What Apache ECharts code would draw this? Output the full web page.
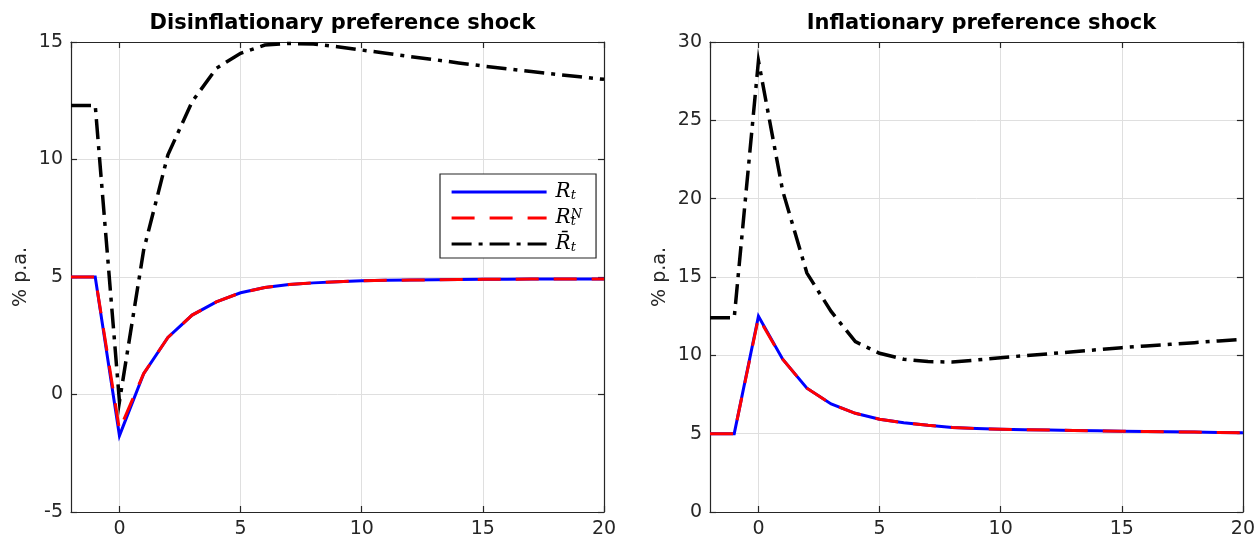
<!DOCTYPE html>
<html>
<head>
<meta charset="utf-8">
<script src="https://cdn.jsdelivr.net/npm/echarts@6/dist/echarts.min.js"></script>
<style>
html,body{margin:0;padding:0;background:#fff;}
#chart{width:1258px;height:541px;}
</style>
</head>
<body>
<div id="chart"></div>
<script>
// ---- data ----
const t = [-2,-1,0,1,2,3,4,5,6,7,8,9,10,11,12,13,14,15,16,17,18,19,20];

const titles = ['Disinflationary preference shock', 'Inflationary preference shock'];
const yLabel = '% p.a.';
const seriesNames = ['R_t', 'R_t^N', 'Rbar_t'];

// Left panel: disinflationary preference shock
const leftR    = [5.0,5.0,-1.75,0.89,2.43,3.38,3.94,4.33,4.55,4.68,4.75,4.80,4.84,4.86,4.87,4.88,4.89,4.90,4.90,4.91,4.91,4.92,4.92];
const leftRN   = [5.0,5.0,-1.50,0.89,2.43,3.38,3.94,4.33,4.55,4.68,4.75,4.80,4.84,4.86,4.87,4.88,4.89,4.90,4.90,4.91,4.91,4.92,4.92];
const leftRbar = [12.3,12.3,-0.3,6.15,10.2,12.46,13.88,14.52,14.87,14.94,14.91,14.80,14.66,14.52,14.38,14.25,14.11,13.98,13.86,13.74,13.63,13.52,13.41];

// Right panel: inflationary preference shock
const rightR    = [5.0,5.0,12.5,9.75,7.9,6.9,6.3,5.92,5.7,5.53,5.4,5.33,5.28,5.25,5.23,5.2,5.18,5.16,5.14,5.12,5.1,5.08,5.06];
const rightRN   = [5.0,5.0,12.4,9.75,7.9,6.9,6.3,5.92,5.7,5.53,5.4,5.33,5.28,5.25,5.23,5.2,5.18,5.16,5.14,5.12,5.1,5.08,5.06];
const rightRbar = [12.4,12.4,28.8,20.5,15.25,12.8,10.87,10.13,9.75,9.6,9.57,9.7,9.85,9.98,10.1,10.23,10.36,10.49,10.6,10.7,10.81,10.92,11.02];

const xRange = [-2, 20];
const yRanges = [[-5, 15], [0, 30]];
const yStep = 5;

// ---- styling ----
const axisColor = '#262626';
const gridColor = '#dfdfdf';
const FONT = 'DejaVu Sans';
const grids = [
  {left: 71, top: 42, width: 533, height: 470},
  {left: 710, top: 42, width: 533, height: 470}
];

function pairs(xs, ys){ return xs.map((x,i)=>[x, ys[i]]); }

const xAxes = [], yAxes = [], series = [];
grids.forEach((g, gi) => {
  xAxes.push({
    type: 'value', gridIndex: gi, min: xRange[0], max: xRange[1], splitNumber: 5,
    position: 'bottom',
    axisLine: {show: true, onZero: false, lineStyle: {color: axisColor, width: 1.2}},
    axisTick: {show: true, inside: true, length: 6, lineStyle: {color: axisColor, width: 1.2}},
    axisLabel: {show: true, showMinLabel: false, color: axisColor, fontFamily: FONT, fontSize: 19, margin: 8},
    splitLine: {show: true, lineStyle: {color: gridColor, width: 1}}
  });
  xAxes.push({
    type: 'value', gridIndex: gi, min: xRange[0], max: xRange[1], splitNumber: 5,
    position: 'top',
    axisLine: {show: true, onZero: false, lineStyle: {color: axisColor, width: 1.2}},
    axisTick: {show: true, inside: true, length: 6, lineStyle: {color: axisColor, width: 1.2}},
    axisLabel: {show: false},
    splitLine: {show: false}
  });
  yAxes.push({
    type: 'value', gridIndex: gi, min: yRanges[gi][0], max: yRanges[gi][1], interval: yStep,
    position: 'left',
    name: yLabel, nameLocation: 'middle', nameGap: 40, nameRotate: 90,
    nameTextStyle: {color: axisColor, fontFamily: FONT, fontSize: 19},
    axisLine: {show: true, onZero: false, lineStyle: {color: axisColor, width: 1.2}},
    axisTick: {show: true, inside: true, length: 6, lineStyle: {color: axisColor, width: 1.2}},
    axisLabel: {show: true, color: axisColor, fontFamily: FONT, fontSize: 19, margin: 8},
    splitLine: {show: true, lineStyle: {color: gridColor, width: 1}}
  });
  yAxes.push({
    type: 'value', gridIndex: gi, min: yRanges[gi][0], max: yRanges[gi][1], interval: yStep,
    position: 'right',
    axisLine: {show: true, onZero: false, lineStyle: {color: axisColor, width: 1.2}},
    axisTick: {show: true, inside: true, length: 6, lineStyle: {color: axisColor, width: 1.2}},
    axisLabel: {show: false},
    splitLine: {show: false}
  });
});

const panelData = [[leftR, leftRN, leftRbar], [rightR, rightRN, rightRbar]];
const styles = [
  {color: '#0000ff', width: 3, type: 'solid'},
  {color: '#ff0000', width: 3, type: [23, 15]},
  {color: '#000000', width: 3.5, type: [20, 7, 4, 7]}
];
panelData.forEach((arrs, gi) => {
  arrs.forEach((vals, si) => {
    series.push({
      type: 'line',
      name: gi === 0 ? seriesNames[si] : seriesNames[si] + '_r',
      xAxisIndex: gi * 2, yAxisIndex: gi * 2,
      data: pairs(t, vals),
      symbol: 'none', showSymbol: false, smooth: false,
      lineStyle: {color: styles[si].color, width: styles[si].width, type: styles[si].type, cap: 'butt', join: 'miter'},
      itemStyle: {color: styles[si].color},
      z: 2 + si,
      animation: false,
      silent: true
    });
  });
});

const legendLabels = {
  'R_t': '{R|R}{sub|t}',
  'R_t^N': '{R|R}{supz|N}{sub|t}',
  'Rbar_t': '{R|R\u0304}{sub|t}'
};

const option = {
  backgroundColor: '#ffffff',
  animation: false,
  title: titles.map((txt, i) => ({
    text: txt,
    left: grids[i].left + grids[i].width / 2,
    top: 8,
    textAlign: 'center',
    textStyle: {fontFamily: FONT, fontWeight: 'bold', fontSize: 21, color: '#000'}
  })),
  grid: grids.map(g => Object.assign({containLabel: false}, g)),
  xAxis: xAxes,
  yAxis: yAxes,
  legend: {
    data: seriesNames,
    orient: 'vertical',
    left: 440, top: 174,
    padding: [8, 14, 4, 10],
    itemWidth: 95, itemHeight: 14, itemGap: 6,
    backgroundColor: '#fff',
    borderColor: axisColor, borderWidth: 1.2, borderRadius: 0,
    selectedMode: false,
    itemStyle: {opacity: 0},
    lineStyle: {width: 3.2},
    formatter: name => legendLabels[name],
    textStyle: {
      color: '#000',
      padding: [0, 0, 0, 4],
      rich: {
        R: {fontFamily: 'DejaVu Serif', fontStyle: 'italic', fontSize: 20, lineHeight: 20, verticalAlign: 'middle'},
        sub: {fontFamily: 'DejaVu Serif', fontStyle: 'italic', fontSize: 13, lineHeight: 11, verticalAlign: 'bottom'},
        supz: {fontFamily: 'DejaVu Serif', fontStyle: 'italic', fontSize: 13, lineHeight: 11, verticalAlign: 'top', width: 0, overflow: 'none'}
      }
    }
  },
  series: series
};

const chart = echarts.init(document.getElementById('chart'), null, {renderer: 'canvas'});
chart.setOption(option);
</script>
</body>
</html>
